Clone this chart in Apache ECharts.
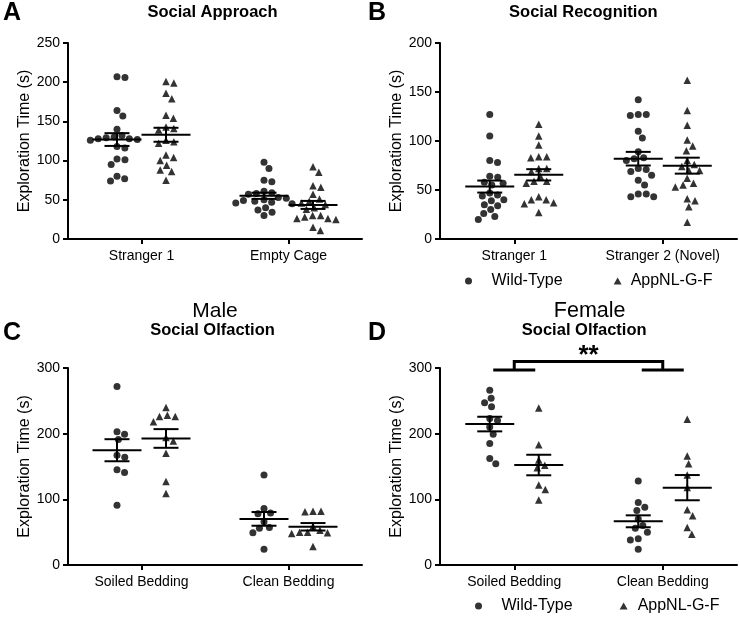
<!DOCTYPE html>
<html>
<head>
<meta charset="utf-8">
<script src="https://cdn.jsdelivr.net/npm/echarts@6/dist/echarts.min.js"></script>
<style>
html,body{margin:0;padding:0;background:#fff;}
#chart{width:739px;height:625px;}
</style>
</head>
<body>
<div id="chart"></div>
<script>
// ---------------- DATA ----------------
const seriesNames = ['Wild-Type', 'AppNL-G-F'];
const yName = 'Exploration Time (s)';

// Panel A - Social Approach
const aCats = ['Stranger 1', 'Empty Cage'];
const aTicks = [0, 50, 100, 150, 200, 250];
const aWT_S1 = [207, 206, 164, 157, 140, 132, 130, 129, 128, 128, 127, 126, 118, 116, 102, 101, 95, 80, 77, 74];
const aApp_S1 = [201, 199, 186, 179, 158, 154, 143, 141, 139, 126, 124, 122, 107, 104, 100, 94, 88, 86, 75];
const aWT_EC = [98, 90, 75, 73, 61, 59, 58, 57, 53, 52, 50, 49, 48, 47, 46, 45, 40, 37, 34, 30];
const aApp_EC = [92, 85, 68, 66, 57, 51, 48, 46, 44, 40, 38, 30, 30, 28, 26, 26, 25, 15, 11];

// Panel B - Social Recognition
const bCats = ['Stranger 1', 'Stranger 2 (Novel)'];
const bTicks = [0, 50, 100, 150, 200];
const bWT_S1 = [127, 105, 80, 78, 64, 63, 58, 57, 55, 47, 45, 44, 40, 39, 35, 34, 30, 26, 23, 20];
const bApp_S1 = [117, 105, 96, 84, 84, 83, 72, 72, 69, 64, 59, 59, 57, 43, 40, 40, 37, 36, 27];
const bWT_S2 = [142, 127, 127, 126, 110, 103, 89, 83, 82, 80, 72, 71, 69, 65, 60, 55, 46, 46, 43, 43];
const bApp_S2 = [162, 131, 116, 101, 95, 90, 80, 76, 74, 70, 70, 62, 57, 55, 53, 41, 39, 33, 17];

// Panel C - Male, Social Olfaction
const cCats = ['Soiled Bedding', 'Clean Bedding'];
const cTicks = [0, 100, 200, 300];
const cWT_S = [272, 203, 199, 191, 167, 164, 145, 141, 91];
const cApp_S = [240, 228, 226, 226, 218, 194, 189, 170, 127, 109];
const cWT_C = [137, 86, 79, 78, 66, 57, 56, 49, 24];
const cApp_C = [82, 82, 81, 59, 53, 50, 50, 49, 48, 28];

// Panel D - Female, Social Olfaction
const dCats = ['Soiled Bedding', 'Clean Bedding'];
const dTicks = [0, 100, 200, 300];
const dWT_S = [266, 254, 247, 241, 223, 220, 210, 199, 185, 162, 154];
const dApp_S = [239, 183, 160, 152, 148, 122, 115, 99];
const dWT_C = [128, 95, 88, 83, 70, 60, 56, 50, 40, 38, 24];
const dApp_C = [222, 166, 154, 137, 118, 84, 75, 57, 47];
const dSigCats = [0, 1];
const dSigLevel = [297, 310];
const dSigLabel = '**';

// ---------------- STYLE / LAYOUT ----------------
const FONT = '"Liberation Sans", Arial, Helvetica, sans-serif';
const BLACK = '#000';
const GROUP_OFF_PX = 24.5;   // offset of each genotype column from category centre
const MEAN_HALF_PX = 24.5;
const CAP_HALF_PX = 12.5;
const SWARM_D = 8;

const panels = [
  {cats: aCats, ticks: aTicks, groups: [[aWT_S1, aApp_S1], [aWT_EC, aApp_EC]], grid: {left: 68, top: 43, width: 294, height: 196}},
  {cats: bCats, ticks: bTicks, groups: [[bWT_S1, bApp_S1], [bWT_S2, bApp_S2]], grid: {left: 440, top: 43, width: 297, height: 196}},
  {cats: cCats, ticks: cTicks, groups: [[cWT_S, cApp_S], [cWT_C, cApp_C]], grid: {left: 68, top: 368, width: 294, height: 197}},
  {cats: dCats, ticks: dTicks, groups: [[dWT_S, dApp_S], [dWT_C, dApp_C]], grid: {left: 440, top: 368, width: 297, height: 197}}
];

function mean(a) { return a.reduce((s, v) => s + v, 0) / a.length; }
function sem(a) {
  const m = mean(a);
  const sd = Math.sqrt(a.reduce((s, v) => s + (v - m) * (v - m), 0) / (a.length - 1));
  return sd / Math.sqrt(a.length);
}

// beeswarm layout: horizontal pixel offsets computed from the values
function swarm(values, pxPerUnit, d) {
  const idx = values.map((v, i) => i).sort((a, b) => values[b] - values[a]);
  const placed = [];
  const offs = new Array(values.length).fill(0);
  idx.forEach(i => {
    const y = values[i] * pxPerUnit;
    const cands = [0];
    placed.forEach(p => {
      const dy = Math.abs(p.y - y);
      if (dy < d) {
        const dx = Math.sqrt(d * d - dy * dy);
        cands.push(p.x + dx, p.x - dx);
      }
    });
    cands.sort((a, b) => Math.abs(a) - Math.abs(b));
    let best = 0;
    for (const c of cands) {
      if (placed.every(p => (p.x - c) * (p.x - c) + (p.y - y) * (p.y - y) >= d * d - 0.01)) { best = c; break; }
    }
    placed.push({x: best, y: y});
    offs[i] = best;
  });
  return offs;
}

const grids = [], xAxes = [], yAxes = [], series = [];
const axisLineStyle = {color: BLACK, width: 2};

panels.forEach((p, pi) => {
  grids.push(Object.assign({containLabel: false}, p.grid));
  const yMin = p.ticks[0], yMax = p.ticks[p.ticks.length - 1];
  const interval = p.ticks[1] - p.ticks[0];
  xAxes.push({
    type: 'category', gridIndex: pi, data: p.cats, boundaryGap: true,
    axisLine: {show: true, onZero: false, lineStyle: axisLineStyle},
    axisTick: {show: true, alignWithLabel: true, length: 5, lineStyle: axisLineStyle},
    axisLabel: {color: BLACK, fontSize: 14, fontFamily: FONT, margin: 10, interval: 0},
    splitLine: {show: false}
  });
  xAxes.push({type: 'value', gridIndex: pi, min: -0.5, max: 1.5, show: false});
  yAxes.push({
    type: 'value', gridIndex: pi, min: yMin, max: yMax, interval: interval,
    axisLine: {show: true, onZero: false, lineStyle: axisLineStyle},
    axisTick: {show: true, length: 5, lineStyle: axisLineStyle},
    axisLabel: {color: BLACK, fontSize: 14, fontFamily: FONT, margin: 8},
    splitLine: {show: false},
    name: yName, nameLocation: 'middle', nameGap: 28,
    nameTextStyle: {color: BLACK, fontSize: 16, fontFamily: FONT}
  });
  const pxPerUnitY = p.grid.height / (yMax - yMin);
  const unitsPerPxX = 2 / p.grid.width;
  const meanData = [];
  p.groups.forEach((pair, ci) => {
    pair.forEach((vals, gi) => {
      const centre = ci + (gi === 0 ? -1 : 1) * GROUP_OFF_PX * unitsPerPxX;
      const offs = swarm(vals, pxPerUnitY, SWARM_D);
      series.push({
        type: 'scatter', name: seriesNames[gi], xAxisIndex: pi * 2 + 1, yAxisIndex: pi,
        symbol: gi === 0 ? 'circle' : 'triangle', symbolSize: gi === 0 ? 7 : 7.5,
        itemStyle: {color: BLACK}, silent: true,
        data: vals.map((v, k) => [centre + offs[k] * unitsPerPxX, v]), z: 3
      });
      meanData.push([centre, mean(vals), sem(vals)]);
    });
  });
  series.push({
    type: 'custom', xAxisIndex: pi * 2 + 1, yAxisIndex: pi, silent: true, z: 4,
    data: meanData,
    renderItem: function (params, api) {
      const x = api.value(0), m = api.value(1), s = api.value(2);
      const c = api.coord([x, m]);
      const t = api.coord([x, m + s]);
      const b = api.coord([x, m - s]);
      const st = {stroke: BLACK, lineWidth: 2, fill: null};
      return {type: 'group', children: [
        {type: 'line', shape: {x1: c[0] - MEAN_HALF_PX, y1: c[1], x2: c[0] + MEAN_HALF_PX, y2: c[1]}, style: st},
        {type: 'line', shape: {x1: c[0], y1: t[1], x2: c[0], y2: b[1]}, style: st},
        {type: 'line', shape: {x1: c[0] - CAP_HALF_PX, y1: t[1], x2: c[0] + CAP_HALF_PX, y2: t[1]}, style: st},
        {type: 'line', shape: {x1: c[0] - CAP_HALF_PX, y1: b[1], x2: c[0] + CAP_HALF_PX, y2: b[1]}, style: st}
      ]};
    }
  });
});

// significance bracket in panel D
series.push({
  type: 'custom', xAxisIndex: 7, yAxisIndex: 3, silent: true, z: 5, clip: false,
  data: [[dSigCats[0], dSigCats[1], dSigLevel[0], dSigLevel[1]]],
  renderItem: function (params, api) {
    const x0 = api.value(0), x1 = api.value(1), yb = api.value(2), yt = api.value(3);
    const L = api.coord([x0, yb]), R = api.coord([x1, yb]);
    const Lt = api.coord([x0, yt]), Rt = api.coord([x1, yt]);
    const st = {stroke: BLACK, lineWidth: 3, fill: null};
    const half = 21;
    return {type: 'group', children: [
      {type: 'line', shape: {x1: L[0] - half, y1: L[1], x2: L[0] + half, y2: L[1]}, style: st},
      {type: 'line', shape: {x1: R[0] - half, y1: R[1], x2: R[0] + half, y2: R[1]}, style: st},
      {type: 'polyline', shape: {points: [[L[0], L[1]], [Lt[0], Lt[1]], [Rt[0], Rt[1]], [R[0], R[1]]]}, style: st},
      {type: 'text', x: (Lt[0] + Rt[0]) / 2, y: Lt[1] + 7,
       style: {text: dSigLabel, fill: BLACK, font: 'bold 26px ' + FONT, align: 'center', verticalAlign: 'bottom'}}
    ]};
  }
});

function txt(text, x, y, font) {
  return {type: 'text', x: x, y: y, silent: true,
    style: {text: text, fill: BLACK, font: font, align: 'center', verticalAlign: 'middle', textAlign: 'center', textVerticalAlign: 'middle'}};
}

function legendItems(padWT, padApp) {
  return [
    {name: seriesNames[0], icon: 'circle', textStyle: {padding: [0, 0, 0, padWT]}},
    {name: seriesNames[1], icon: 'triangle', textStyle: {padding: [0, 0, 0, padApp]}}
  ];
}
const legendText = {color: BLACK, fontSize: 16, fontFamily: FONT};
const option = {
  animation: false,
  backgroundColor: '#fff',
  grid: grids,
  xAxis: xAxes,
  yAxis: yAxes,
  legend: [
    {data: legendItems(14, 4), left: 460, top: 268, itemWidth: 8, itemHeight: 7, itemGap: 51, selectedMode: false,
     textStyle: legendText},
    {data: legendItems(14, 5), left: 470, top: 593, itemWidth: 8, itemHeight: 7, itemGap: 47, selectedMode: false,
     textStyle: legendText}
  ],
  graphic: [
    txt('A', 12, 13, 'bold 25px ' + FONT),
    txt('Social Approach', 212.5, 12.5, 'bold 16.5px ' + FONT),
    txt('B', 377, 13, 'bold 25px ' + FONT),
    txt('Social Recognition', 583.3, 12.5, 'bold 16.5px ' + FONT),
    txt('Male', 215, 311, '21px ' + FONT),
    txt('Social Olfaction', 212.5, 330.7, 'bold 16.5px ' + FONT),
    txt('C', 12, 333, 'bold 25px ' + FONT),
    txt('Female', 589.7, 311, '21.5px ' + FONT),
    txt('Social Olfaction', 584.2, 330.7, 'bold 16.5px ' + FONT),
    txt('D', 377, 333, 'bold 25px ' + FONT)
  ],
  series: series
};

const chart = echarts.init(document.getElementById('chart'), null, {renderer: 'canvas'});
chart.setOption(option);
</script>
</body>
</html>
